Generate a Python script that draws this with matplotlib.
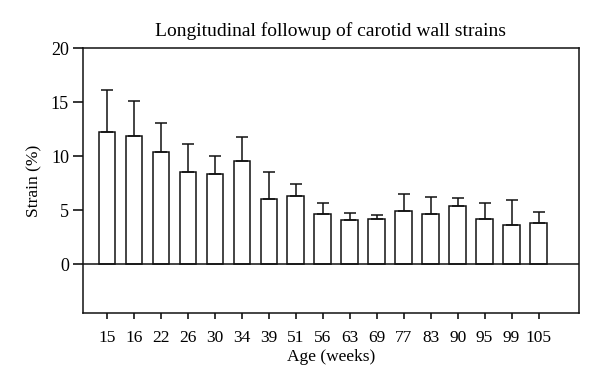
import matplotlib.pyplot as plt
import numpy as np

plt.rcParams['font.family'] = ['Liberation Serif', 'DejaVu Serif']

ages = ['15', '16', '22', '26', '30', '34', '39', '51', '56', '63', '69', '77', '83', '90', '95', '99', '105']
strain = [12.2, 11.85, 10.4, 8.55, 8.33, 9.54, 6.08, 6.33, 4.69, 4.14, 4.23, 4.91, 4.63, 5.43, 4.17, 3.67, 3.86]
upper = [16.1, 15.1, 13.1, 11.1, 10.06, 11.8, 8.58, 7.44, 5.71, 4.72, 4.6, 6.48, 6.2, 6.14, 5.68, 5.96, 4.85]
err = [u - s for u, s in zip(upper, strain)]

fig = plt.figure(figsize=(6, 3.88), dpi=100)
ax = fig.add_axes([0.138, 0.193, 0.827, 0.683])

x = np.arange(len(ages))
ax.bar(x, strain, width=0.62, color='white', edgecolor='#111', linewidth=1.1, zorder=2)
ax.errorbar(x, strain, yerr=[np.zeros(len(err)), err], fmt='none', ecolor='#111',
            elinewidth=1.1, capsize=4.5, capthick=1.1, zorder=3)
ax.axhline(0, color='#111', lw=1.1, zorder=4)

ax.set_xlim(-0.9, 17.5)
ax.set_ylim(-4.5, 20)
ax.set_yticks([0, 5, 10, 15, 20])
ax.set_xticks(x)
ax.set_xticklabels(ages)
for s in ax.spines.values():
    s.set_linewidth(1.1)
    s.set_color('#111')
ax.tick_params(axis='y', direction='out', length=7, width=1.1, labelsize=13, pad=3)
ax.tick_params(axis='x', direction='out', length=4.5, width=1.1, labelsize=12.5, pad=8)

ax.set_xlabel('Age (weeks)', fontsize=12.5, labelpad=2)
ax.set_ylabel('Strain (%)', fontsize=12.5, labelpad=6)
ax.set_title('Longitudinal followup of carotid wall strains', fontsize=14, pad=9)

fig.savefig('out.png', dpi=100)
